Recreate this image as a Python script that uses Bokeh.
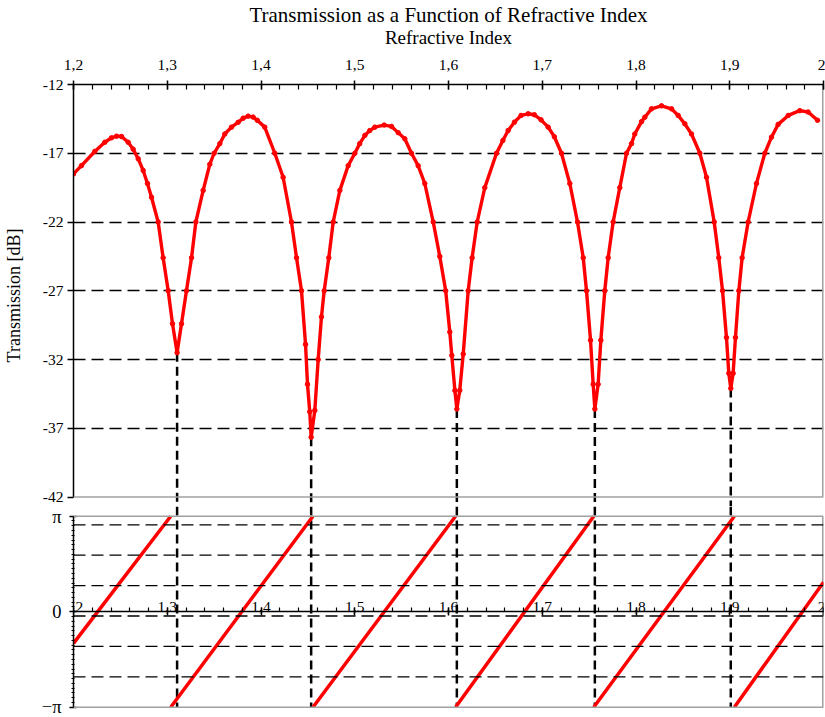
import math
from bokeh.plotting import figure
from bokeh.models import Range1d, LinearAxis, FixedTicker, Span
from bokeh.layouts import column
from bokeh.embed import file_html
from bokeh.resources import INLINE

PI = math.pi
NAN = float("nan")
FONT = "Liberation Serif"

# ---------------- data ----------------
n_values = [1.2000, 1.2085, 1.2227, 1.2334, 1.2405, 1.2459, 1.2512, 1.2583, 1.2636, 1.2690,
            1.2743, 1.2789, 1.2832, 1.2903, 1.2956, 1.3010, 1.3056, 1.3105, 1.3152, 1.3205,
            1.3259, 1.3305, 1.3383, 1.3454, 1.3500, 1.3561, 1.3614, 1.3685, 1.3756, 1.3810,
            1.3863, 1.3916, 1.3960, 1.4040, 1.4147, 1.4236, 1.4325, 1.4379, 1.4432, 1.4475,
            1.4496, 1.4520, 1.4535, 1.4574, 1.4610, 1.4645, 1.4674, 1.4723, 1.4770, 1.4841,
            1.4930, 1.5001, 1.5053, 1.5108, 1.5160, 1.5214, 1.5314, 1.5392, 1.5463, 1.5534,
            1.5605, 1.5676, 1.5747, 1.5837, 1.5907, 1.5970, 1.6014, 1.6035, 1.6068, 1.6089,
            1.6120, 1.6157, 1.6210, 1.6252, 1.6306, 1.6387, 1.6512, 1.6580, 1.6636, 1.6703,
            1.6774, 1.6850, 1.6916, 1.6987, 1.7063, 1.7129, 1.7205, 1.7294, 1.7376, 1.7437,
            1.7472, 1.7515, 1.7543, 1.7561, 1.7596, 1.7625, 1.7667, 1.7703, 1.7756, 1.7827,
            1.7899, 1.7952, 1.7987, 1.8059, 1.8094, 1.8165, 1.8272, 1.8379, 1.8450, 1.8521,
            1.8592, 1.8681, 1.8752, 1.8834, 1.8883, 1.8923, 1.8965, 1.8990, 1.9011, 1.9036,
            1.9061, 1.9097, 1.9132, 1.9196, 1.9285, 1.9374, 1.9445, 1.9516, 1.9624, 1.9747,
            1.9836, 1.9936]
transmission_db = [-18.5, -17.9, -16.87, -16.2, -15.88, -15.76, -15.78, -16.2, -16.7, -17.4,
                   -18.25, -19.2, -20.2, -22.0, -24.6, -27.0, -29.4, -31.5, -29.4, -27.0,
                   -24.6, -22.0, -19.7, -17.8, -17.0, -16.3, -15.6, -15.1, -14.75, -14.45,
                   -14.3, -14.37, -14.6, -15.1, -17.0, -18.75, -22.0, -24.6, -27.0, -30.9,
                   -33.8, -35.8, -37.65, -35.7, -32.0, -28.9, -27.0, -24.6, -22.0, -19.7,
                   -17.9, -17.0, -16.3, -15.7, -15.35, -15.1, -14.95, -15.05, -15.5, -15.95,
                   -17.0, -17.9, -19.2, -22.0, -24.5, -27.0, -30.0, -31.7, -34.25, -35.6,
                   -34.25, -31.6, -27.0, -24.6, -22.0, -19.5, -17.0, -16.07, -15.35, -14.74,
                   -14.25, -14.13, -14.2, -14.57, -15.1, -15.8, -17.0, -19.2, -22.0, -24.6,
                   -27.0, -30.6, -33.8, -35.6, -33.8, -30.6, -27.0, -24.6, -22.0, -19.5,
                   -17.0, -16.3, -15.6, -14.7, -14.38, -13.77, -13.55, -13.77, -14.25, -14.86,
                   -15.6, -17.0, -18.75, -22.0, -24.6, -27.0, -30.4, -33.0, -34.1, -33.0,
                   -30.4, -27.0, -24.6, -22.0, -19.2, -17.0, -15.83, -14.9, -14.25, -13.9,
                   -14.0, -14.6]

# transmission minima (where the dashed markers are dropped)
dip_n = [1.3105, 1.4535, 1.6089, 1.7561, 1.9011]
dip_db = [-31.5, -37.65, -35.6, -35.6, -34.1]

# phase (rad), wrapped segments separated by NaN
phase_n = [1.2000, 1.3037, NAN,
           1.3037, 1.4554, NAN,
           1.4554, 1.6075, NAN,
           1.6075, 1.7549, NAN,
           1.7549, 1.9049, NAN,
           1.9049, 2.0000]
phase_rad = [-1.04, PI, NAN,
             -PI, PI, NAN,
             -PI, PI, NAN,
             -PI, PI, NAN,
             -PI, PI, NAN,
             -PI, 0.97]

# ticks / labels
x_ticks = [1.2, 1.3, 1.4, 1.5, 1.6, 1.7, 1.8, 1.9, 2.0]
x_tick_labels = ["1,2", "1,3", "1,4", "1,5", "1,6", "1,7", "1,8", "1,9", "2"]
x_minor_ticks = [1.2 + 0.02 * k for k in range(41)]
db_ticks = [-12, -17, -22, -27, -32, -37, -42]
db_tick_labels = ["-12", "-17", "-22", "-27", "-32", "-37", "-42"]
db_grid = [-17, -22, -27, -32, -37]
phase_ticks = [-PI, 0.0, PI]
phase_tick_labels = ["\u2212\u03c0", "0", "\u03c0"]
phase_minor_ticks = [k * PI / 20 for k in range(-20, 21)]
phase_grid = [-PI + k for k in range(1, 7)]

# ---------------- layout constants ----------------
W = 825
LEFT = 72
RIGHT = 2
TOP_PANEL = 84
TOP_H = 506          # top canvas (frame runs into half of the gap)
BOT_H = 211
DB_PER_PX = 1 / 13.75
RAD_PER_PX = 1 / 30.4
TOP_EXTRA = (TOP_H - TOP_PANEL) * DB_PER_PX     # frame height in dB
BOT_TOP = PI + 9.7 * RAD_PER_PX
BOT_BOTTOM = -PI - 9.3 * RAD_PER_PX
GRID_DASH = "12 6"
DIP_DASH = "9 5"
RED = "#ff0000"
GRAY = "#a0a0a0"
INK = "black"

x_range = Range1d(x_ticks[0], x_ticks[-1])
db_top = db_ticks[0]
db_bottom = db_ticks[0] - TOP_EXTRA

# ---------------- top figure ----------------
top = figure(width=W, height=TOP_H, x_range=x_range,
             y_range=Range1d(db_bottom, db_top),
             x_axis_location="above", output_backend="svg", toolbar_location=None,
             min_border_left=LEFT, min_border_right=RIGHT, min_border_top=TOP_PANEL,
             min_border_bottom=0, background_fill_color="white", border_fill_color="white")
top.outline_line_color = None

top.title.text = "Transmission as a Function of Refractive Index"
top.title.align = "center"
top.title.text_font = FONT
top.title.text_font_size = "21px"
top.title.text_font_style = "normal"
top.title.text_color = INK
top.title.standoff = -6

xa = top.xaxis[0]
xa.ticker = FixedTicker(ticks=x_ticks, minor_ticks=x_minor_ticks)
xa.major_label_overrides = dict(zip(x_ticks, x_tick_labels))
xa.axis_label = "Refractive Index"
xa.axis_label_text_font = FONT
xa.axis_label_text_font_size = "19px"
xa.axis_label_text_font_style = "normal"
xa.axis_label_text_color = INK
xa.axis_label_standoff = 9
xa.major_label_text_font = FONT
xa.major_label_text_font_size = "15.5px"
xa.major_label_text_color = INK
xa.major_label_standoff = 11
xa.axis_line_color = INK
xa.axis_line_width = 1.5
xa.major_tick_in = 5
xa.major_tick_out = 4
xa.minor_tick_in = 5
xa.minor_tick_out = 0
xa.major_tick_line_color = INK
xa.minor_tick_line_color = INK
xa.major_tick_line_width = 1.5
xa.minor_tick_line_width = 1.2

ya = top.yaxis[0]
ya.ticker = FixedTicker(ticks=db_ticks)
ya.major_label_overrides = dict(zip(db_ticks, db_tick_labels))
ya.bounds = (db_ticks[-1], db_ticks[0])
ya.axis_label = "Transmission [dB]"
ya.axis_label_text_font = FONT
ya.axis_label_text_font_size = "18px"
ya.axis_label_text_font_style = "normal"
ya.axis_label_text_color = INK
ya.axis_label_standoff = 16
ya.major_label_text_font = FONT
ya.major_label_text_font_size = "15.5px"
ya.major_label_text_color = INK
ya.major_label_standoff = 4
ya.axis_line_color = INK
ya.axis_line_width = 1.5
ya.major_tick_in = 0
ya.major_tick_out = 6
ya.minor_tick_out = 0
ya.minor_tick_in = 0
ya.major_tick_line_color = INK
ya.major_tick_line_width = 1.5

top.xgrid.visible = False
top.ygrid.ticker = FixedTicker(ticks=db_grid)
top.ygrid.grid_line_color = INK
top.ygrid.grid_line_dash = GRID_DASH
top.ygrid.grid_line_width = 1.3

# gray frame pieces (bottom at -42 and right edge)
top.add_layout(Span(location=db_ticks[-1], dimension="width", line_color=GRAY, line_width=1.5))
top.segment(x0=[x_ticks[-1]], y0=[db_ticks[-1]], x1=[x_ticks[-1]], y1=[db_ticks[0]],
            line_color=GRAY, line_width=3)

top.segment(x0=dip_n, y0=dip_db, x1=dip_n, y1=[db_bottom] * len(dip_n),
            line_color=INK, line_width=2.5, line_dash=DIP_DASH)
top.line(n_values, transmission_db, line_color=RED, line_width=3.4)
top.scatter(n_values, transmission_db, size=4.5, color=RED)

# ---------------- bottom figure ----------------
bottom = figure(width=W, height=BOT_H, x_range=x_range,
                y_range=Range1d(BOT_BOTTOM, BOT_TOP),
                x_axis_location=None, output_backend="svg", toolbar_location=None,
                min_border_left=LEFT, min_border_right=RIGHT, min_border_top=0,
                min_border_bottom=1, background_fill_color="white", border_fill_color="white")
bottom.outline_line_color = None
bottom.xgrid.visible = False
bottom.ygrid.visible = False

yb = bottom.yaxis[0]
yb.ticker = FixedTicker(ticks=phase_ticks, minor_ticks=phase_minor_ticks)
yb.major_label_overrides = dict(zip(phase_ticks, phase_tick_labels))
yb.bounds = (phase_ticks[0], phase_ticks[-1])
yb.major_label_text_font = FONT
yb.major_label_text_font_size = "18.5px"
yb.major_label_text_color = INK
yb.major_label_standoff = 8
yb.axis_line_color = INK
yb.axis_line_width = 1.5
yb.major_tick_in = 3
yb.major_tick_out = 4
yb.minor_tick_in = 1
yb.minor_tick_out = 2
yb.major_tick_line_color = INK
yb.minor_tick_line_color = INK
yb.major_tick_line_width = 1.5

for v in phase_grid:
    bottom.add_layout(Span(location=v, dimension="width", line_color=INK,
                           line_dash=GRID_DASH, line_width=1.3))
for v in (phase_ticks[0], phase_ticks[-1]):
    bottom.add_layout(Span(location=v, dimension="width", line_color=GRAY, line_width=1.5))
bottom.segment(x0=[x_ticks[-1]], y0=[phase_ticks[0]], x1=[x_ticks[-1]], y1=[phase_ticks[-1]],
               line_color=GRAY, line_width=3)

inline = LinearAxis(fixed_location=0,
                    ticker=FixedTicker(ticks=x_ticks, minor_ticks=x_minor_ticks))
inline.major_label_overrides = dict(zip(x_ticks, x_tick_labels))
inline.major_label_text_font = FONT
inline.major_label_text_font_size = "15.5px"
inline.major_label_text_color = INK
inline.major_label_standoff = -4
inline.axis_line_color = INK
inline.axis_line_width = 1.5
inline.major_tick_in = 4
inline.major_tick_out = 4
inline.minor_tick_in = 0
inline.minor_tick_out = 4
inline.major_tick_line_color = INK
inline.minor_tick_line_color = INK
inline.major_tick_line_width = 1.5
inline.minor_tick_line_width = 1.2
bottom.add_layout(inline, "above")

bottom.segment(x0=dip_n, y0=[BOT_TOP] * len(dip_n), x1=dip_n, y1=[-PI] * len(dip_n),
               line_color=INK, line_width=2.5, line_dash=DIP_DASH)
bottom.line(phase_n, phase_rad, line_color=RED, line_width=3.5)

layout = column(top, bottom, spacing=0)
open("out.html", "w").write(file_html(layout, INLINE, "Transmission"))
